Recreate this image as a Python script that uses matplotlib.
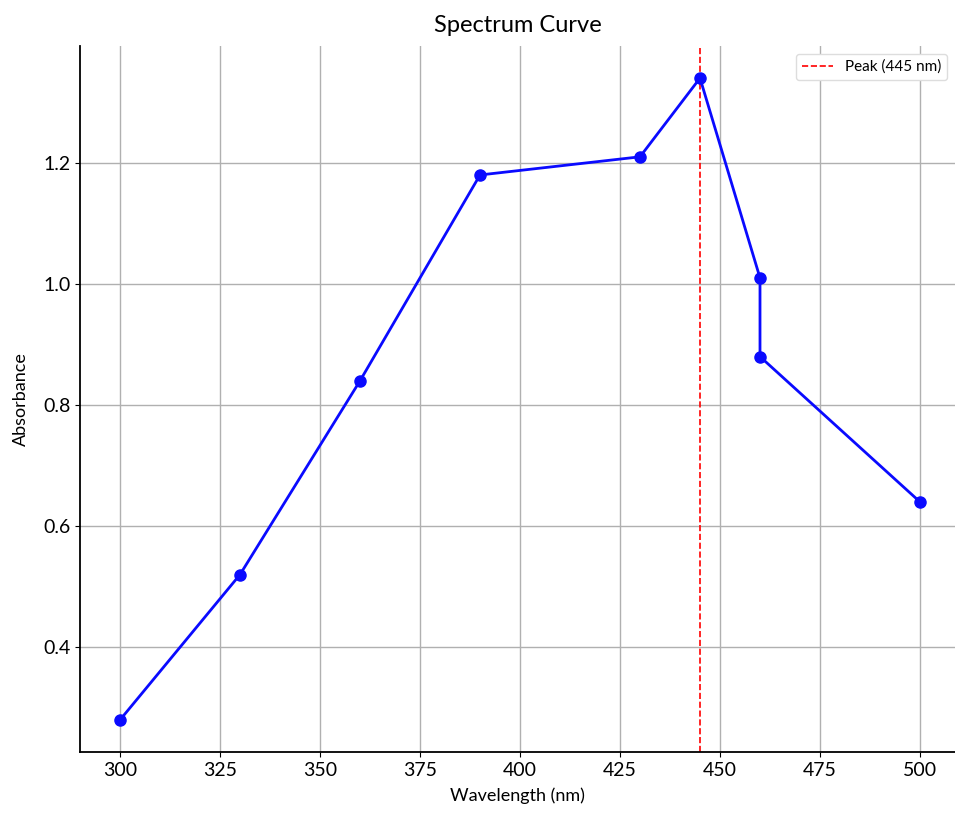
import matplotlib
matplotlib.use("Agg")
import matplotlib.pyplot as plt

# data
wavelength = [300, 330, 360, 390, 430, 445, 460, 460, 500]
absorbance = [0.28, 0.52, 0.84, 1.18, 1.21, 1.34, 1.01, 0.88, 0.64]
peak_nm = 445
x_ticks = [300, 325, 350, 375, 400, 425, 450, 475, 500]
y_ticks = [0.4, 0.6, 0.8, 1.0, 1.2]

plt.rcParams.update({"font.family": ["Lato", "DejaVu Sans"], "font.size": 13})

fig = plt.figure(figsize=(9.55, 8.18), dpi=100)
ax = fig.add_axes([80 / 955, 1 - 752 / 818, 875 / 955, (752 - 46) / 818])

ax.plot(wavelength, absorbance, color="#0a0aff", marker="o", markersize=8,
        linewidth=2, zorder=3)
ax.axvline(peak_nm, color="red", linestyle="--", linewidth=1.2,
           label="Peak ({} nm)".format(peak_nm), zorder=2)

ax.set_xlim(290, 508.75)
ax.set_ylim(0.227, 1.393)
ax.set_xticks(x_ticks)
ax.set_yticks(y_ticks)
ax.set_yticklabels(["{:.1f}".format(v) for v in y_ticks])
ax.tick_params(labelsize=14)

ax.grid(True, color="#b0b0b0", linewidth=1)
ax.set_axisbelow(True)
ax.spines["top"].set_visible(False)
ax.spines["right"].set_visible(False)
ax.spines["left"].set_linewidth(1.3)
ax.spines["bottom"].set_linewidth(1.3)

ax.set_title("Spectrum Curve", fontsize=17, pad=10)
ax.set_xlabel("Wavelength (nm)", fontsize=13, labelpad=6)
ax.set_ylabel("Absorbance", fontsize=13, labelpad=10)
ax.legend(loc="upper right", fontsize=11, framealpha=1, edgecolor="#dddddd")

fig.savefig("out.png", dpi=100)
